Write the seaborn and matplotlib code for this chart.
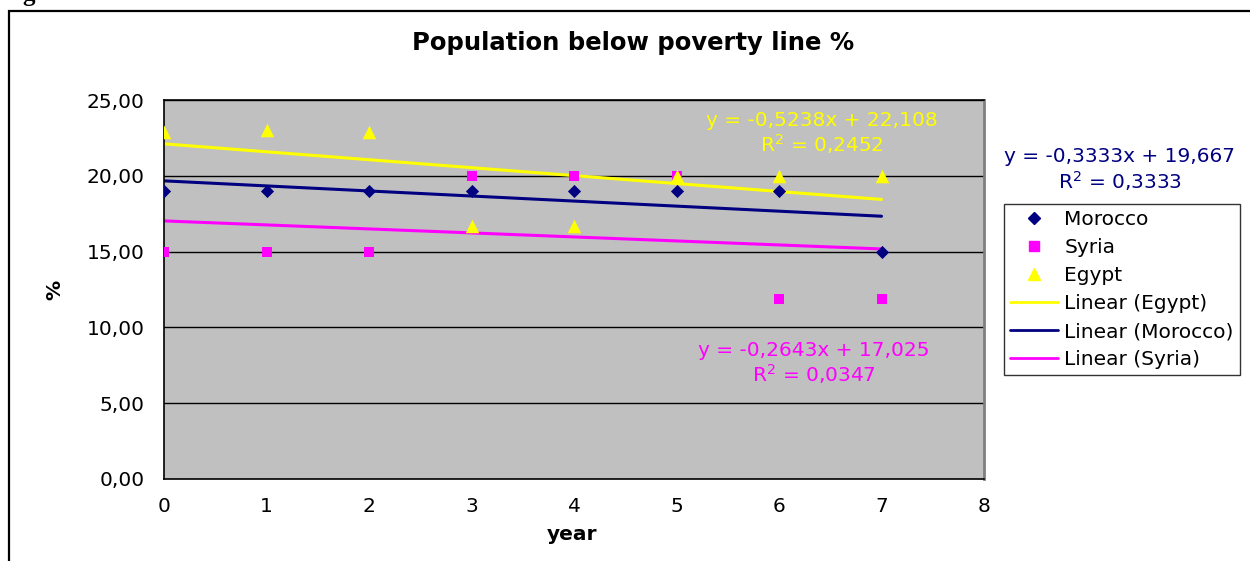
import numpy as np
import pandas as pd
import matplotlib
matplotlib.use("Agg")
import matplotlib.pyplot as plt
from matplotlib.lines import Line2D
from matplotlib.patches import Rectangle
import seaborn as sns

sns.set_theme(style="white")
plt.rcParams["font.family"] = ["DejaVu Sans"]
plt.rcParams["text.color"] = "black"
plt.rcParams["axes.labelcolor"] = "black"

# Data
years = [0, 1, 2, 3, 4, 5, 6, 7]
morocco = [19.0, 19.0, 19.0, 19.0, 19.0, 19.0, 19.0, 15.0]
syria = [15.0, 15.0, 15.0, 20.0, 20.0, 20.0, 11.9, 11.9]
egypt = [22.9, 23.0, 22.9, 16.7, 16.7, 20.0, 20.0, 20.0]
y_ticks = [0, 5, 10, 15, 20, 25]
x_ticks = [0, 1, 2, 3, 4, 5, 6, 7, 8]

NAVY = "#000080"
MAGENTA = "#FF00FF"
YELLOW = "#FFFF00"
GRAY_BG = "#C0C0C0"
FS = 14.5

df = pd.DataFrame({"year": years, "Morocco": morocco, "Syria": syria, "Egypt": egypt})

fig = plt.figure(figsize=(12.5, 5.61), dpi=100)
ax = fig.add_axes([164 / 1250, 1 - 479 / 561, (984 - 164) / 1250, (479 - 100) / 561])
ax.set_facecolor(GRAY_BG)

# Horizontal gridlines
for t in y_ticks[1:]:
    ax.axhline(t, color="black", lw=1.0, zorder=1)

# Trend lines (ordinary least squares)
def fit(y):
    x = np.asarray(years, float)
    y = np.asarray(y, float)
    slope, intercept = np.polyfit(x, y, 1)
    r2 = np.corrcoef(x, y)[0, 1] ** 2
    return slope, intercept, r2

series = [("Egypt", egypt, YELLOW), ("Morocco", morocco, NAVY), ("Syria", syria, MAGENTA)]
for name, vals, col in series:
    sns.regplot(data=df, x="year", y=name, ax=ax, ci=None, scatter=False,
                truncate=True, line_kws=dict(color=col, lw=2.2, zorder=2))

# Scatter markers
sns.scatterplot(data=df, x="year", y="Morocco", ax=ax, marker="D", s=45,
                color=NAVY, edgecolor=NAVY, linewidth=0, zorder=4)
sns.scatterplot(data=df, x="year", y="Syria", ax=ax, marker="s", s=55,
                color=MAGENTA, edgecolor=MAGENTA, linewidth=0, zorder=3)
sns.scatterplot(data=df, x="year", y="Egypt", ax=ax, marker="^", s=95,
                color=YELLOW, edgecolor=YELLOW, linewidth=0, zorder=5)

ax.set_xlim(0, 8)
ax.set_ylim(0, 25)
ax.set_xticks(x_ticks)
ax.set_xticklabels([str(v) for v in x_ticks])
ax.set_yticks(y_ticks)
ax.set_yticklabels([f"{v:.2f}".replace(".", ",") for v in y_ticks])
ax.tick_params(axis="both", direction="out", length=6, width=1, color="black",
               labelsize=FS, labelcolor="black", pad=4)
ax.tick_params(axis="y", pad=8)
ax.tick_params(axis="x", pad=7)

for side in ["left", "bottom", "top"]:
    ax.spines[side].set_color("black")
    ax.spines[side].set_linewidth(1.2)
ax.spines["right"].set_color("#808080")
ax.spines["right"].set_linewidth(2)

ax.set_xlabel("year", fontsize=FS, fontweight="bold", color="black")
ax.set_ylabel("%", fontsize=FS, fontweight="bold", color="black")
ax.xaxis.set_label_coords((572 - 164) / 820, (479 - 535) / 379)
ax.yaxis.set_label_coords((55 - 164) / 820, 0.5)
ax.xaxis.label.set_va("center")
ax.yaxis.label.set_va("center")

fig.text(633 / 1250, 1 - 43 / 561, "Population below poverty line %",
         ha="center", va="center", fontsize=17.5, fontweight="bold", color="black")

# Trend equations
def fmt(v, nd):
    return f"{v:.{nd}f}".replace(".", ",")

eq_pos = {"Egypt": (822, 120), "Morocco": (1120, 157), "Syria": (814, 350)}
for name, vals, col in series:
    s, b, r2 = fit(vals)
    sign = "+" if b >= 0 else "-"
    x0, y0 = eq_pos[name]
    fig.text(x0 / 1250, 1 - y0 / 561, f"y = {fmt(s, 4)}x {sign} {fmt(abs(b), 3)}",
             ha="center", va="center", fontsize=FS, color=col)
    fig.text(x0 / 1250, 1 - (y0 + 24) / 561, f"R$^2$ = {fmt(r2, 4)}",
             ha="center", va="center", fontsize=FS, color=col)

# Legend
handles = [
    Line2D([], [], marker="D", ls="", color=NAVY, markersize=6),
    Line2D([], [], marker="s", ls="", color=MAGENTA, markersize=7),
    Line2D([], [], marker="^", ls="", color=YELLOW, markersize=9),
    Line2D([], [], color=YELLOW, lw=2),
    Line2D([], [], color=NAVY, lw=2),
    Line2D([], [], color=MAGENTA, lw=2),
]
labels = ["Morocco", "Syria", "Egypt", "Linear (Egypt)", "Linear (Morocco)", "Linear (Syria)"]
leg = fig.legend(handles, labels, loc="upper left", bbox_to_anchor=(1004 / 1250, 1 - 204 / 561),
                 fontsize=FS, frameon=True, fancybox=False, edgecolor="black",
                 handlelength=2.4, labelspacing=0.45, borderpad=0.3, handletextpad=0.3,
                 borderaxespad=0, labelcolor="black")
leg.get_frame().set_linewidth(1.0)

# Outer chart frame
fig.patches.append(Rectangle((9 / 1250, -0.1), 1.2, 1 - 11 / 561 + 0.1, transform=fig.transFigure,
                             fill=False, edgecolor="black", lw=1.6))

# Caption line above the chart frame (mostly outside the canvas)
fig.text(22 / 1250, 1 - 1 / 561, "g", ha="left", va="baseline", fontsize=18,
         fontweight="bold", family="Liberation Serif", color="black")

fig.savefig("out.png", dpi=100)
